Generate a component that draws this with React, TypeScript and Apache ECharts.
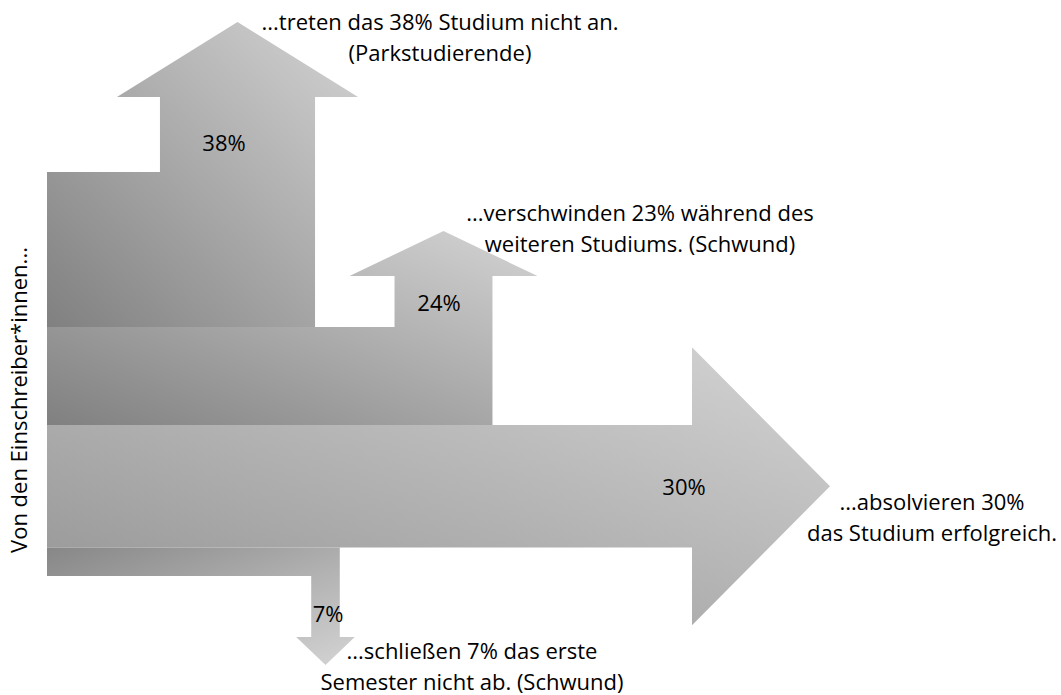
import React, { useEffect, useRef } from "react";
import * as echarts from "echarts";

// ---- data ----
const categories = ["Parkstudierende", "Schwund (weiteres Studium)", "Absolvent*innen", "Schwund (1. Semester)"];
const shares = [38, 24, 30, 7];
const shareLabels = ["38%", "24%", "30%", "7%"];
const directions = ["up", "up", "right", "down"];
const descriptions = [
  "...treten das 38% Studium nicht an.\n(Parkstudierende)",
  "...verschwinden 23% während des\nweiteren Studiums. (Schwund)",
  "...absolvieren 30%\ndas Studium erfolgreich.",
  "...schließen 7% das erste\nSemester nicht ab. (Schwund)",
];
const sourceLabel = "Von den Einschreiber*innen...";

// ---- layout (pixels) ----
const BAND_LEFT = 47;
const LAYOUT = [
  { center: 237.5, headBase: 97, tip: 22, overhang: 43, labelX: 224, labelY: 142, textX: 440, textY: 36 },
  { center: 443.5, headBase: 276, tip: 231, overhang: 45, labelX: 439, labelY: 302, textX: 640, textY: 227 },
  { headStart: 692, tipX: 830, halfHead: 139, labelX: 684, labelY: 0, textX: 932, textY: 516 },
  { center: 325.5, headBase: 637, tip: 665, overhang: 15, labelX: 328, labelY: 613, textX: 472, textY: 665 },
];
const FONT = '22px "Open Sans"';

const total = shares.reduce((a, b) => a + b, 0);
const flowData = (() => {
  let acc = 0;
  return shares.map((v, i) => {
    const item = { name: categories[i], value: [acc, acc + v, i] };
    acc += v;
    return item;
  });
})();

function shapeFill(dir: string) {
  if (dir === "down") {
    return new echarts.graphic.LinearGradient(0, 0, 1, 1, [
      { offset: 0, color: "#878787" },
      { offset: 1, color: "#d4d4d4" },
    ]);
  }
  if (dir === "right") {
    return new echarts.graphic.LinearGradient(0, 1, 1, 0, [
      { offset: 0, color: "#939393" },
      { offset: 1, color: "#d4d4d4" },
    ]);
  }
  return new echarts.graphic.LinearGradient(0, 1, 1, 0, [
    { offset: 0, color: "#808080" },
    { offset: 1, color: "#d4d4d4" },
  ]);
}

function renderItem(params: any, api: any) {
  const i = params.dataIndex;
  const start = api.value(0);
  const end = api.value(1);
  const [L, y0] = api.coord([BAND_LEFT, start]);
  const y1 = api.coord([BAND_LEFT, end])[1];
  const w = y1 - y0;
  const lay: any = LAYOUT[i];
  const dir = directions[i];
  let pts: number[][] = [];
  let lx = lay.labelX;
  let ly = lay.labelY;
  if (dir === "up") {
    const sx0 = lay.center - w / 2;
    const sx1 = lay.center + w / 2;
    pts = [
      [L, y0], [sx0, y0], [sx0, lay.headBase], [sx0 - lay.overhang, lay.headBase],
      [lay.center, lay.tip], [sx1 + lay.overhang, lay.headBase], [sx1, lay.headBase],
      [sx1, y1], [L, y1],
    ];
  } else if (dir === "right") {
    const mid = (y0 + y1) / 2;
    pts = [
      [L, y0], [lay.headStart, y0], [lay.headStart, mid - lay.halfHead], [lay.tipX, mid],
      [lay.headStart, mid + lay.halfHead], [lay.headStart, y1], [L, y1],
    ];
    ly = mid;
  } else {
    const sx0 = lay.center - w / 2;
    const sx1 = lay.center + w / 2;
    pts = [
      [L, y0], [sx1, y0], [sx1, lay.headBase], [sx1 + lay.overhang, lay.headBase],
      [lay.center, lay.tip], [sx0 - lay.overhang, lay.headBase], [sx0, lay.headBase],
      [sx0, y1], [L, y1],
    ];
  }
  return {
    type: "group",
    children: [
      { type: "polygon", shape: { points: pts }, style: { fill: shapeFill(dir) } },
      {
        type: "text",
        x: lx,
        y: ly,
        z2: 10,
        style: {
          text: shareLabels[i], fill: "#000", font: FONT,
          align: "center", verticalAlign: "middle", textAlign: "center", textVerticalAlign: "middle",
        },
      },
    ],
  };
}

export default function App() {
  const ref = useRef<HTMLDivElement>(null);
  useEffect(() => {
    document.body.style.margin = "0";
    const chart = echarts.init(ref.current!, null, { renderer: "svg" });
    const texts: any[] = descriptions.map((d, i) => ({
      type: "text",
      x: LAYOUT[i].textX,
      y: LAYOUT[i].textY,
      style: {
        text: d, fill: "#000", font: FONT, lineHeight: 31,
        textAlign: "center", textVerticalAlign: "middle", align: "center", verticalAlign: "middle",
      },
    }));
    texts.push({
      type: "text",
      x: 18,
      y: 400,
      rotation: Math.PI / 2,
      style: {
        text: sourceLabel, fill: "#000", font: FONT,
        textAlign: "center", textVerticalAlign: "middle", align: "center", verticalAlign: "middle",
      },
    });
    chart.setOption({
      animation: false,
      backgroundColor: "#ffffff",
      grid: { left: 0, right: 0, top: 172, height: 404 },
      xAxis: { type: "value", min: 0, max: 1061, show: false },
      yAxis: { type: "value", min: 0, max: total, inverse: true, show: false },
      series: [
        {
          type: "custom",
          coordinateSystem: "cartesian2d",
          clip: false,
          renderItem,
          data: flowData,
        },
      ],
      graphic: texts,
    });
    return () => chart.dispose();
  }, []);
  return <div ref={ref} style={{ width: 1061, height: 695 }} />;
}
